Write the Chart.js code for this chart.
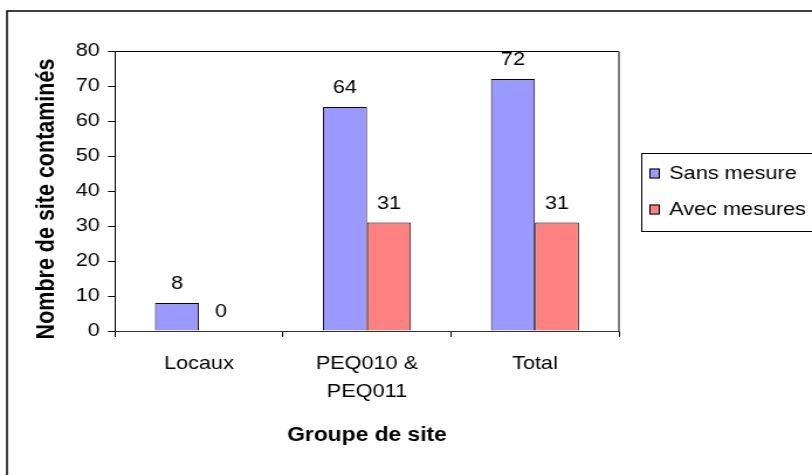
<!DOCTYPE html>
<html>
<head>
<meta charset="utf-8">
<script src="https://cdn.jsdelivr.net/npm/chart.js@4"></script>
<style>
  html, body { margin: 0; padding: 0; background: #fff; overflow: hidden; }
  #wrap { width: 694px; height: 475px; transform: scaleX(1.17); transform-origin: 0 0; }
</style>
</head>
<body>
<div id="wrap"><canvas id="chart" width="694" height="475"></canvas></div>
<script>
// site groups and counts
const categories = ['Locaux', ['PEQ010 &', 'PEQ011'], 'Total'];
const sansMesure = [8, 64, 72];
const avecMesures = [0, 31, 31];
const yTicks = [0, 10, 20, 30, 40, 50, 60, 70, 80];
const yTitle = 'Nombre de site contaminés';

const FONT = '"Liberation Sans", Arial, sans-serif';

// white background + outer frame (left and top edges)
const framePlugin = {
    id: 'frame',
    beforeDraw(chart) {
        const ctx = chart.ctx;
        ctx.save();
        ctx.fillStyle = '#fff';
        ctx.fillRect(0, 0, chart.width, chart.height);
        ctx.strokeStyle = '#000';
        ctx.lineWidth = 1.5;
        ctx.beginPath();
        ctx.moveTo(6, chart.height);
        ctx.lineTo(6, 11);
        ctx.lineTo(chart.width, 11);
        ctx.stroke();
        ctx.restore();
    },
    afterDraw(chart) {
        const a = chart.chartArea;
        const ctx = chart.ctx;
        ctx.save();
        // plot area box (top and right edges)
        ctx.strokeStyle = '#000';
        ctx.lineWidth = 1;
        ctx.beginPath();
        ctx.moveTo(a.left, a.top + 0.5);
        ctx.lineTo(a.right, a.top + 0.5);
        ctx.lineTo(a.right, a.bottom);
        ctx.stroke();
        // vertical axis title
        ctx.translate(40, (a.top + a.bottom) / 2 + 8);
        ctx.rotate(-Math.PI / 2);
        ctx.font = 'bold 21.5px ' + FONT;
        ctx.fillStyle = '#000';
        ctx.textAlign = 'center';
        ctx.textBaseline = 'middle';
        ctx.fillText(yTitle, 0, 0);
        ctx.restore();
    }
};

// value labels above each bar
const valueLabels = {
    id: 'valueLabels',
    afterDatasetsDraw(chart) {
        const ctx = chart.ctx;
        ctx.save();
        ctx.font = '18.5px ' + FONT;
        ctx.fillStyle = '#000';
        ctx.textAlign = 'center';
        ctx.textBaseline = 'middle';
        chart.data.datasets.forEach((ds, i) => {
            chart.getDatasetMeta(i).data.forEach((bar, j) => {
                ctx.fillText(String(ds.data[j]), bar.x, bar.y - 19);
            });
        });
        ctx.restore();
    }
};

// boxed legend on the right
const boxLegend = {
    id: 'boxLegend',
    afterDraw(chart) {
        const ctx = chart.ctx;
        ctx.save();
        ctx.strokeStyle = '#000';
        ctx.lineWidth = 1;
        ctx.strokeRect(548.5, 153.5, 200, 78);
        ctx.font = '18.5px ' + FONT;
        ctx.textAlign = 'left';
        ctx.textBaseline = 'middle';
        chart.data.datasets.forEach((ds, i) => {
            const cy = 173.5 + i * 36;
            ctx.fillStyle = ds.backgroundColor;
            ctx.fillRect(555, cy - 5, 9, 10);
            ctx.strokeRect(555.5, cy - 4.5, 8, 9);
            ctx.fillStyle = '#000';
            ctx.fillText(ds.label, 572, cy);
        });
        ctx.restore();
    }
};

new Chart(document.getElementById('chart'), {
    type: 'bar',
    data: {
        labels: categories,
        datasets: [
            { label: 'Sans mesure', data: sansMesure, backgroundColor: '#9999FF', borderColor: '#000', borderWidth: 1 },
            { label: 'Avec mesures', data: avecMesures, backgroundColor: '#FF8080', borderColor: '#000', borderWidth: 1 }
        ]
    },
    options: {
        responsive: false,
        animation: false,
        events: [],
        layout: { padding: { left: 0, top: 51, right: 165, bottom: 0 } },
        datasets: { bar: { categoryPercentage: 0.524, barPercentage: 1.0 } },
        plugins: {
            legend: { display: false },
            tooltip: { enabled: false }
        },
        scales: {
            x: {
                grid: { drawOnChartArea: false, drawTicks: true, tickLength: 6, color: '#000', offset: true },
                border: { color: '#333', width: 1 },
                ticks: { color: '#000', padding: 13, maxRotation: 0, font: { family: FONT, size: 18.5, lineHeight: 1.5 } },
                title: {
                    display: true, text: 'Groupe de site', color: '#000',
                    font: { family: FONT, size: 19.5, weight: 'bold', lineHeight: 1.2 },
                    padding: { top: 0, bottom: 28 }
                },
                afterFit(scale) { scale.height = 144; }
            },
            y: {
                min: 0, max: 80,
                afterBuildTicks(scale) { scale.ticks = yTicks.map(v => ({ value: v })); },
                grid: { drawOnChartArea: false, drawTicks: true, tickLength: 6, color: '#000' },
                border: { color: '#000', width: 1 },
                ticks: { color: '#000', padding: 7, font: { family: FONT, size: 18.5 } },
                afterFit(scale) { scale.width = 98.3; }
            }
        }
    },
    plugins: [framePlugin, valueLabels, boxLegend]
});
</script>
</body>
</html>
